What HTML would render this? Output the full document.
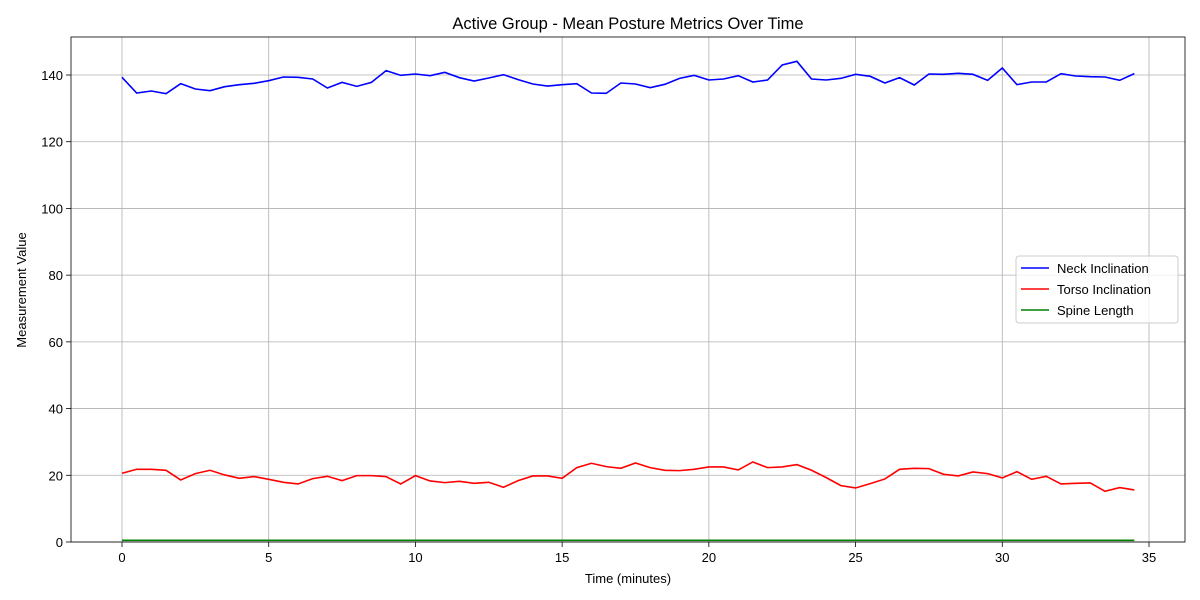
<!DOCTYPE html>
<html><head><meta charset="utf-8"><style>
body{margin:0;background:#fff;}
svg{display:block;font-family:"Liberation Sans","DejaVu Sans",sans-serif;}
</style></head><body>
<svg id="chart" width="1200" height="600"></svg>
<script>
const times = Array.from({length:70},(_,i)=>i*0.5);
const neckValues = [139.3,134.6,135.2,134.4,137.4,135.8,135.3,136.5,137.1,137.5,138.3,139.4,139.3,138.8,136.1,137.8,136.6,137.8,141.3,139.9,140.3,139.8,140.8,139.2,138.2,139.1,140.1,138.6,137.3,136.7,137.1,137.4,134.6,134.5,137.6,137.3,136.2,137.2,139.0,139.9,138.5,138.8,139.8,137.9,138.5,143.0,144.1,138.8,138.5,139.0,140.2,139.6,137.6,139.2,137.0,140.3,140.2,140.5,140.2,138.4,142.1,137.1,137.9,137.9,140.4,139.7,139.5,139.4,138.4,140.4];
const torsoValues = [20.6,21.8,21.8,21.5,18.6,20.5,21.5,20.1,19.1,19.6,18.8,17.9,17.4,19.0,19.7,18.4,19.9,19.9,19.6,17.4,19.9,18.3,17.8,18.2,17.6,17.9,16.4,18.4,19.8,19.8,19.1,22.3,23.6,22.6,22.1,23.7,22.3,21.5,21.4,21.8,22.5,22.5,21.6,24.0,22.3,22.5,23.2,21.5,19.3,16.9,16.2,17.5,18.9,21.8,22.1,22.0,20.3,19.8,21.0,20.5,19.2,21.1,18.8,19.7,17.4,17.6,17.7,15.2,16.3,15.6];
const spineValues = Array(70).fill(0.5);
const xTicks = [0,5,10,15,20,25,30,35];
const yTicks = [0,20,40,60,80,100,120,140];

const NS="http://www.w3.org/2000/svg";
const svg=document.getElementById('chart');
const L=71,R=1185,T=37,B=542;
const xs=v=>122+v*(1149-122)/35;
const ys=v=>542-v*(542-75)/140;
function el(tag,attrs,parent){const e=document.createElementNS(NS,tag);for(const k in attrs)e.setAttribute(k,attrs[k]);(parent||svg).appendChild(e);return e;}

xTicks.forEach(t=>{
  const g=el('line',{x1:xs(t),x2:xs(t),y1:T,y2:B,stroke:'#b0b0b0','stroke-width':0.8});
  
  
  el('line',{x1:xs(t),x2:xs(t),y1:B,y2:B+5,stroke:'#000','stroke-width':0.8});
  const tx=el('text',{x:xs(t),y:B+20,'text-anchor':'middle','font-size':13});
  tx.textContent=t;
  
  
});
yTicks.forEach(t=>{
  const g=el('line',{x1:L,x2:R,y1:ys(t),y2:ys(t),stroke:'#b0b0b0','stroke-width':0.8});
  
  
  el('line',{x1:L-5,x2:L,y1:ys(t),y2:ys(t),stroke:'#000','stroke-width':0.8});
  const tx=el('text',{x:L-8,y:ys(t)+5,'text-anchor':'end','font-size':13});
  tx.textContent=t;
  
  
});
function series(vals,color,name){
  const p=el('polyline',{points:vals.map((v,i)=>xs(times[i])+','+ys(v)).join(' '),fill:'none',stroke:color,'stroke-width':1.6});
  
  
}
series(neckValues,'#0000ff','neck-inclination-line');
series(torsoValues,'#ff0000','torso-inclination-line');
series(spineValues,'#008000','spine-length-line');

const frame=el('rect',{x:L,y:T,width:R-L,height:B-T,fill:'none',stroke:'#000','stroke-width':0.8});



const title=el('text',{x:628,y:29,'text-anchor':'middle','font-size':16.5});
title.textContent='Active Group - Mean Posture Metrics Over Time';


const xl=el('text',{x:628,y:583,'text-anchor':'middle','font-size':13});
xl.textContent='Time (minutes)';


const yl=el('text',{x:26,y:290,'text-anchor':'middle','font-size':13,transform:'rotate(-90 26 290)'});
yl.textContent='Measurement Value';



const lg=el('g',{});


el('rect',{x:1016,y:256,width:162,height:67,rx:3,fill:'#fff','fill-opacity':0.8,stroke:'#ccc'},lg);
[['Neck Inclination','#0000ff'],['Torso Inclination','#ff0000'],['Spine Length','#008000']].forEach((d,i)=>{
  const y=268+i*21;
  const ln=el('line',{x1:1021,x2:1049,y1:y,y2:y,stroke:d[1],'stroke-width':1.6},lg);
  
  
  const t=el('text',{x:1057,y:y+5,'font-size':13},lg);
  t.textContent=d[0];
  
  
});
</script>
</body></html>
